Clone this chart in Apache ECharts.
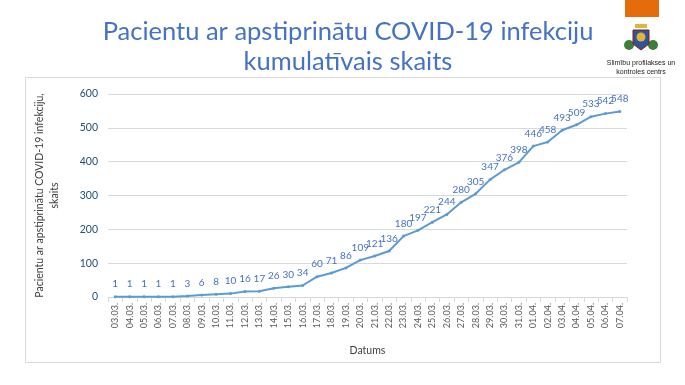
<!DOCTYPE html>
<html><head><meta charset="utf-8">
<script src="https://cdn.jsdelivr.net/npm/echarts@6/dist/echarts.min.js"></script>
<style>html,body{margin:0;padding:0;background:#fff}#c{width:685px;height:385px}</style>
</head><body><div id="c"></div>
<script>
const categories = ["03.03.","04.03.","05.03.","06.03.","07.03.","08.03.","09.03.","10.03.","11.03.","12.03.","13.03.","14.03.","15.03.","16.03.","17.03.","18.03.","19.03.","20.03.","21.03.","22.03.","23.03.","24.03.","25.03.","26.03.","27.03.","28.03.","29.03.","30.03.","31.03.","01.04.","02.04.","03.04.","04.04.","05.04.","06.04.","07.04."];
const values = [1,1,1,1,1,3,6,8,10,16,17,26,30,34,60,71,86,109,121,136,180,197,221,244,280,305,347,376,398,446,458,493,509,533,542,548];
const yTicks = [0,100,200,300,400,500,600];
const titleLines = ["Pacientu ar apstiprinātu COVID-19 infekciju","kumulatīvais skaits"];

const chart = echarts.init(document.getElementById('c'));
chart.setOption({
  backgroundColor: '#fff',
  animation: false,
  title: {
    text: titleLines.join('\n'),
    left: 343, top: 12, textAlign: 'center',
    textStyle: {fontFamily: 'Lato', fontWeight: 'normal', fontSize: 25.5, color: '#4472C4', lineHeight: 30}
  },
  grid: {left: 108, right: 58, top: 94, bottom: 88},
  xAxis: {
    type: 'category', data: categories, boundaryGap: true,
    name: 'Datums', nameLocation: 'middle', nameGap: 48,
    nameTextStyle: {fontFamily: 'Lato', fontSize: 10.5, color: '#404040'},
    axisLine: {lineStyle: {color: '#d9d9d9'}},
    axisTick: {show: true, alignWithLabel: false, length: 5, lineStyle: {color: '#d9d9d9'}},
    axisLabel: {rotate: 90, interval: 0, fontFamily: 'Lato', fontSize: 9, color: '#595959', margin: 6}
  },
  yAxis: {
    type: 'value', min: yTicks[0], max: yTicks[yTicks.length-1], interval: 100,
    name: 'Pacientu ar apstiprinātu COVID-19 infekciju,\nskaits', nameLocation: 'middle', nameGap: 46,
    nameTextStyle: {fontFamily: 'Lato', fontSize: 10.5, color: '#404040', lineHeight: 15},
    axisLine: {show: false}, axisTick: {show: false},
    splitLine: {lineStyle: {color: '#d9d9d9'}},
    axisLabel: {fontFamily: 'Lato', fontSize: 10.5, color: '#1f4e79', margin: 10}
  },
  series: [{
    type: 'line', data: values,
    symbol: 'circle', symbolSize: 3,
    lineStyle: {color: '#5B9BD5', width: 2},
    itemStyle: {color: '#5B9BD5'},
    label: {show: true, position: 'top', distance: 6, fontFamily: 'Lato', fontSize: 10, color: '#4472C4'}
  }],
  graphic: [
    {type: 'rect', shape: {x: 25.5, y: 77.5, width: 635, height: 285}, style: {fill: 'none', stroke: '#d9d9d9', lineWidth: 1}, silent: true},
    {type: 'rect', shape: {x: 625, y: 0, width: 34, height: 17}, style: {fill: '#E46C0A'}},
    {type: 'circle', shape: {cx: 629, cy: 45, r: 5}, style: {fill: '#3E7D3A'}},
    {type: 'circle', shape: {cx: 653, cy: 45, r: 5}, style: {fill: '#3E7D3A'}},
    {type: 'polygon', shape: {points: [[633,30],[649,30],[649,44],[641,50],[633,44]]}, style: {fill: '#2E5597', stroke: '#8B1A1A', lineWidth: 1}},
    {type: 'circle', shape: {cx: 641, cy: 37, r: 4.5}, style: {fill: '#E2B43A'}},
    {type: 'rect', shape: {x: 635, y: 24, width: 12, height: 4}, style: {fill: '#E2B43A'}},
    {type: 'text', style: {text: 'Slimību profilakses un\nkontroles centrs', x: 641, y: 59, align: 'center', fontFamily: 'Liberation Sans', fontSize: 7, fill: '#222', lineHeight: 9}}
  ]
});
</script></body></html>
